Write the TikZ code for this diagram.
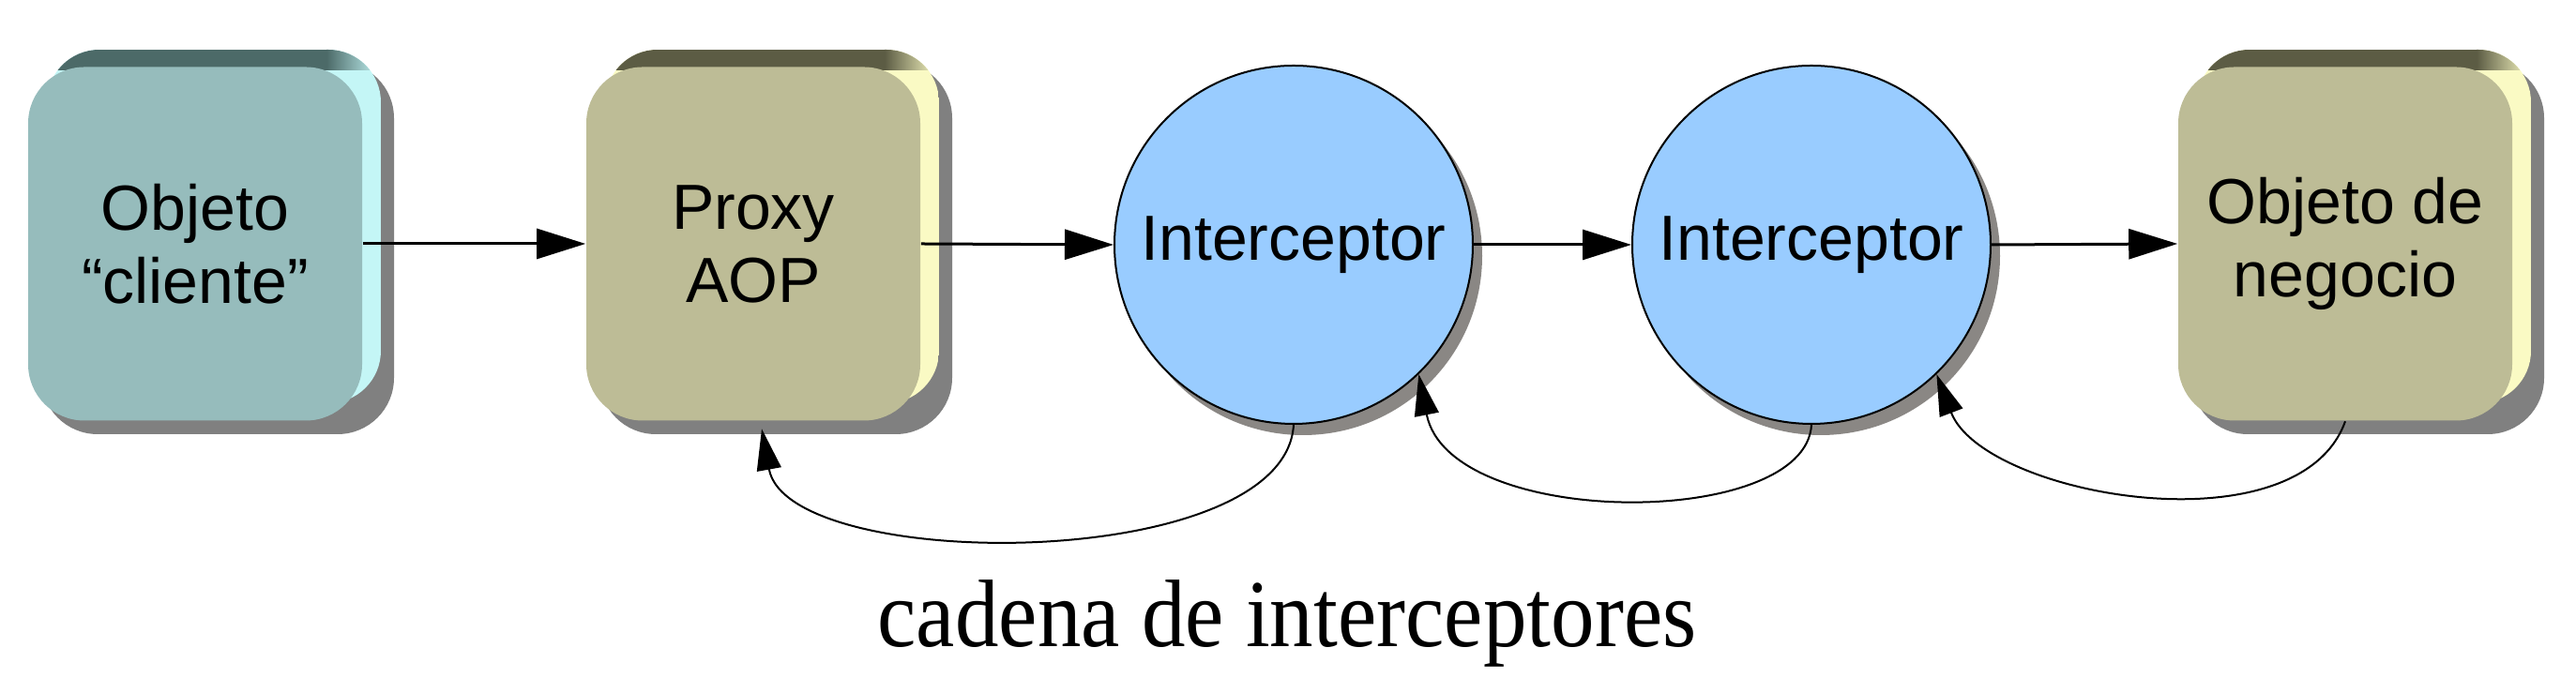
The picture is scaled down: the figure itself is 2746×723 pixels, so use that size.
\documentclass[tikz,border=0pt]{standalone}
\usepackage{fontspec}
\newfontfamily\boxfont{Liberation Sans}
\newfontfamily\capfont{Liberation Serif}
\usetikzlibrary{arrows.meta,shadows,calc}
\definecolor{tealface}{HTML}{96BCBC}
\definecolor{tealdark}{HTML}{4C6A68}
\definecolor{teallight}{HTML}{C4F6F6}
\definecolor{khakiface}{HTML}{BDBC96}
\definecolor{khakidark}{HTML}{5C5C44}
\definecolor{khakilight}{HTML}{FAFAC4}
\definecolor{boxshadow}{HTML}{808080}
\definecolor{circfill}{HTML}{99CCFF}
\definecolor{circshadow}{HTML}{8A8784}
\tikzset{
  boxface/.style={rectangle, rounded corners=15pt, minimum width=89pt, minimum height=94.25pt,
    inner sep=0pt, align=center, font=\boxfont\fontsize{17}{19.5}\selectfont},
  icept/.style={circle, draw=black, line width=0.5pt, fill=circfill, minimum size=95.5pt, inner sep=0pt,
    font=\boxfont\fontsize{17}{19.5}\selectfont,
    drop shadow={shadow xshift=2.5pt, shadow yshift=-3pt, fill=circshadow, opacity=1}},
  flow/.style={line width=0.75pt, -{Triangle[length=13pt,width=8pt]}},
  ret/.style={line width=0.5pt, -{Triangle[length=11pt,width=6.5pt]}},
  caption/.style={font=\capfont\fontsize{23.25}{28}\selectfont, inner sep=0pt}
}
% #1 name, #2 centre x, #3 face, #4 dark band, #5 light bevel, #6 text
\newcommand\bevelbox[6]{%
  \fill[boxshadow, rounded corners=15pt] (#2-164,66) rectangle (#2+212,463);
  \begin{scope}
    \clip[rounded corners=14pt] (#2-158,53) rectangle (#2+198,430);
    \fill[#5] (#2-158,53) rectangle (#2+198,430);
    \fill[#4] (#2-158,53) rectangle (#2+140,75);
    \shade[left color=#4, right color=#5] (#2+140,53) rectangle (#2+198,75);
  \end{scope}
  \node[boxface, fill=#3] (#1) at (#2,260) {#6};
}
\begin{document}
\begin{tikzpicture}[x=0.25pt, y=-0.25pt]
\useasboundingbox (0,0) rectangle (2746,723);
\fill[white] (0,0) rectangle (2746,723);

\bevelbox{cli}{208}{tealface}{tealdark}{teallight}{Objeto\\“cliente”}
\bevelbox{proxy}{803}{khakiface}{khakidark}{khakilight}{Proxy\\AOP}
\bevelbox{neg}{2500}{khakiface}{khakidark}{khakilight}{Objeto de\\negocio}

\node[icept] (i1) at (1379,261) {Interceptor};
\node[icept] (i2) at (1931,261) {Interceptor};

\draw[flow] (cli.east) -- (proxy.west);
\draw[flow] (proxy.east) -- (i1.west);
\draw[flow] (i1.east) -- (i2.west);
\draw[flow] (i2.east) -- (neg.west);

\coordinate (pa) at ($(proxy.south)+(9,8)$);
\draw[ret] (i1.south) .. controls (1370,612) and (840,612) .. (pa);
\draw[ret] (i2.south) .. controls (1925,565) and (1545,565) .. (i1.-46);
\draw[ret] (neg.south) .. controls (2450,589) and (2114,529) .. (i2.-46);

\node[caption, anchor=base] (cap) at (1372,690) {\scalebox{1}[1.1]{cadena de interceptores}};
\end{tikzpicture}
\end{document}
